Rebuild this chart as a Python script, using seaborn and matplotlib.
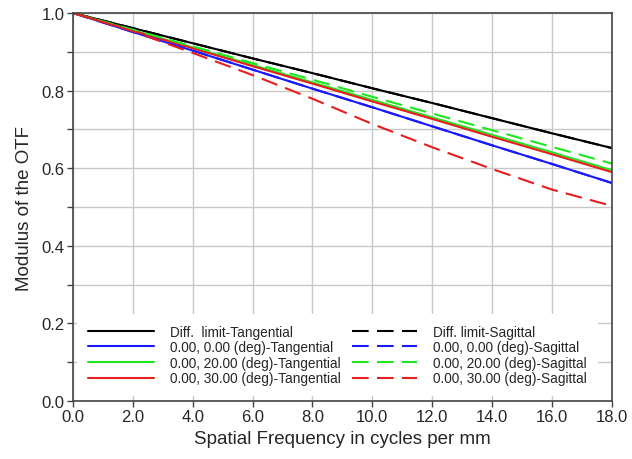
import numpy as np
import pandas as pd
import matplotlib
matplotlib.use("Agg")
import matplotlib.pyplot as plt
import seaborn as sns
from matplotlib.ticker import MultipleLocator

# ==========================================================
# Data
# ==========================================================

freq = [0.0, 2.0, 4.0, 6.0, 8.0, 10.0, 12.0, 14.0, 16.0, 18.0]

diff_tan = [1.000, 0.961, 0.922, 0.883, 0.845, 0.806, 0.768, 0.729, 0.690, 0.652]
diff_sag = [1.000, 0.961, 0.922, 0.883, 0.845, 0.806, 0.768, 0.729, 0.690, 0.652]
f00_tan = [1.000, 0.951, 0.903, 0.854, 0.805, 0.757, 0.708, 0.659, 0.611, 0.562]
f00_sag = [1.000, 0.951, 0.903, 0.854, 0.805, 0.757, 0.708, 0.659, 0.611, 0.562]
f20_tan = [1.000, 0.956, 0.911, 0.866, 0.821, 0.776, 0.731, 0.686, 0.641, 0.595]
f20_sag = [1.000, 0.957, 0.914, 0.871, 0.828, 0.784, 0.741, 0.698, 0.655, 0.612]
f30_tan = [1.000, 0.954, 0.909, 0.863, 0.818, 0.772, 0.727, 0.681, 0.636, 0.590]
f30_sag = [1.000, 0.953, 0.897, 0.840, 0.779, 0.714, 0.654, 0.598, 0.545, 0.503]

labels = [
    "Diff.  limit-Tangential",
    "0.00, 0.00 (deg)-Tangential",
    "0.00, 20.00 (deg)-Tangential",
    "0.00, 30.00 (deg)-Tangential",
    "Diff. limit-Sagittal",
    "0.00, 0.00 (deg)-Sagittal",
    "0.00, 20.00 (deg)-Sagittal",
    "0.00, 30.00 (deg)-Sagittal",
]
series = [diff_tan, f00_tan, f20_tan, f30_tan, diff_sag, f00_sag, f20_sag, f30_sag]
colors = ["#000000", "#1a1aff", "#1ee61e", "#e61e1e"] * 2
dashed = [False] * 4 + [True] * 4

# ==========================================================
# Plot
# ==========================================================

sns.set_theme(style="white")
plt.rcParams["font.family"] = ["Liberation Sans", "DejaVu Sans"]

fig = plt.figure(figsize=(6.32, 4.60), dpi=100)
ax = fig.add_axes([0.1155, 0.126, 0.8525, 0.8436])

for vals, lab, col, dsh in zip(series, labels, colors, dashed):
    df = pd.DataFrame({"x": freq, "y": vals})
    sns.lineplot(data=df, x="x", y="y", color=col, lw=1.5, label=lab, ax=ax)
    if dsh:
        ax.lines[-1].set_dashes((8, 4))

ax.set_xlim(0, 18)
ax.set_ylim(0, 1.0)
ax.xaxis.set_major_locator(MultipleLocator(2))
ax.yaxis.set_major_locator(MultipleLocator(0.2))
ax.yaxis.set_minor_locator(MultipleLocator(0.1))
ax.xaxis.set_major_formatter(matplotlib.ticker.FormatStrFormatter("%.1f"))
ax.yaxis.set_major_formatter(matplotlib.ticker.FormatStrFormatter("%.1f"))

ax.grid(True, which="both", color="#c8c8c8", lw=1.0)
ax.set_axisbelow(True)

ax.tick_params(axis="both", which="both", direction="out", length=4,
               width=1, color="#444444", labelsize=12, pad=2,
               left=True, bottom=True)

for sp in ax.spines.values():
    sp.set_color("#444444")
    sp.set_linewidth(1.2)

ax.set_xlabel("Spatial Frequency in cycles per mm", fontsize=13.5, labelpad=4)
ax.set_ylabel("Modulus of the OTF", fontsize=13.5, labelpad=6)

leg = ax.legend(loc="lower left", ncol=2, fontsize=9.8, frameon=True,
                facecolor="white", edgecolor="none", framealpha=1,
                handlelength=4.8, handletextpad=1.2, labelspacing=0.12,
                columnspacing=0.8, borderpad=0.8,
                bbox_to_anchor=(0.008, 0.012), borderaxespad=0)
leg.get_frame().set_boxstyle("square", pad=0)

fig.savefig("out.png", dpi=100)
